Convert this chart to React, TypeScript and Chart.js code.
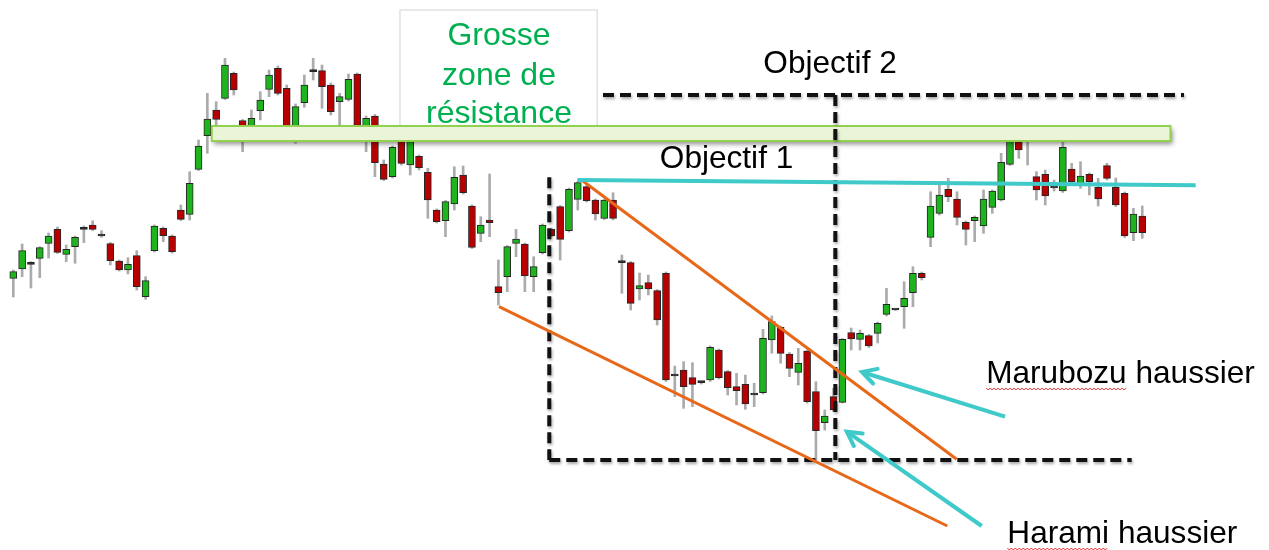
import React, { useEffect, useRef } from "react";
import { Chart, registerables } from "chart.js";

Chart.register(...registerables);

// ---- Candle data (price units; higher = up) ----
const OPEN = [271.7, 281, 285.7, 291.7, 306.7, 320.7, 295.7, 303.3, 320.7, 325, 314, 306.3, 289, 280, 294.3, 253.3, 299.3, 321.7, 314, 340, 335.7, 380.7, 414.3, 440, 451.7, 476.7, 429.3, 418, 439.3, 460.7, 481.7, 461.7, 414, 447.3, 478.3, 479.3, 465, 448.3, 450.7, 476, 414, 434, 386, 373.3, 409.5, 385, 393.7, 377.7, 340, 329.3, 346, 375, 344, 316.7, 330, 263.3, 273.3, 306.7, 306, 273.3, 297.3, 320.7, 343.3, 319.3, 350.7, 363.3, 350, 331.7, 350, 287.3, 287.3, 261, 267.3, 259.3, 276.7, 174, 180, 172.3, 167.3, 170, 200, 178.3, 163.3, 165.7, 155, 157.3, 210, 222.7, 196, 177.7, 199, 158.3, 127.3, 153.3, 147.7, 217.5, 210.7, 214.3, 216.7, 235.7, 240, 243.3, 257.3, 276.7, 312.7, 336.7, 360.7, 351, 327.7, 329.3, 324, 342.7, 350, 385.7, 408.3, 408.3, 373.3, 375.7, 362, 359, 381, 365, 375.7, 362.7, 384.3, 362.7, 356.7, 317.3, 334];
const HIGH = [280, 306, 288.3, 303.3, 317, 323, 305, 314, 324, 329.3, 319.3, 307.5, 290, 292.3, 299.3, 273.3, 325, 323, 315, 345, 378.3, 410, 456.7, 448.3, 491.7, 478, 430.5, 440, 458.3, 480, 484, 465, 446, 475, 491.7, 485, 467, 456.7, 476, 477, 434, 435.5, 390, 404, 411, 410, 395, 381.7, 341, 349.5, 383.3, 384, 345, 333.3, 376, 290, 304.5, 320.7, 307, 293.3, 326, 322, 344.5, 362, 368.5, 364.5, 351, 351, 357.3, 295, 288.5, 277, 275, 260.5, 278, 184, 188.3, 187.3, 168.5, 204, 201, 179.5, 176.7, 175, 166.7, 220.7, 234, 224, 197.5, 201.7, 200, 168.3, 140, 161.7, 211.5, 222, 220, 215.5, 228, 261.7, 240.5, 268.3, 283.3, 278, 358.3, 365, 371.7, 358.3, 329, 334, 360, 360, 396.7, 417, 412, 410, 378.3, 380, 370, 408.3, 386.7, 388.3, 377, 371.7, 386.7, 372, 358, 341.7, 344];
const LOW = [253, 273.3, 262, 272.3, 292, 296.5, 288.3, 286.7, 307.3, 319.5, 312.7, 285, 279, 276, 260, 250.7, 298, 308.3, 297, 329.5, 330, 379.5, 396.7, 423.3, 450.5, 455, 398.3, 416, 430, 453.3, 455, 415, 406.7, 442.7, 470, 441.7, 435, 425, 449, 417, 398.3, 373.3, 369.5, 372, 385, 375, 380, 331.7, 327, 313.3, 340, 356, 301.5, 308.3, 313.3, 245, 258.3, 293.3, 258.3, 258.3, 296, 313, 290, 318, 340, 348, 330, 330.5, 330, 256.7, 240, 250, 255, 225, 168.5, 153.3, 141.7, 143.3, 166, 168.5, 171, 155, 145, 140.7, 143.3, 156, 196.7, 186.7, 173.3, 165, 147, 90, 120, 138.5, 147, 200, 200, 202.5, 207, 234, 239.5, 221.7, 243.3, 270, 303.3, 335, 348.3, 325, 305, 308.3, 316.7, 336.7, 349, 384.5, 391.7, 385, 350, 345, 359, 357.5, 367, 361.7, 355, 344, 370, 343.5, 312.5, 309.3, 311.7];
const CLOSE = [278.3, 299.3, 285.7, 302.3, 314, 297.7, 300.7, 312.7, 320.7, 320.7, 314, 289.3, 280, 285.7, 263.3, 269.3, 324, 314.3, 298.3, 330.7, 366.7, 404, 431, 430.7, 485, 460, 415, 431.7, 450, 475, 456.7, 417, 443.3, 465, 478.3, 463.3, 438.3, 453.3, 470.7, 420, 431.7, 387.3, 370.7, 402.7, 386.7, 408.3, 382.3, 350, 328.3, 348.3, 372.7, 357.3, 302.7, 325, 327.3, 257.3, 303.3, 311, 274, 283.3, 325, 314, 310.7, 360.7, 367.3, 349.3, 336, 350, 331.7, 287.3, 246.7, 264.3, 261, 230, 170, 174, 163.3, 165.7, 167.3, 202.7, 172.3, 162.3, 159.3, 146, 155, 211.7, 228.3, 196.7, 181.7, 186.7, 148.3, 119.3, 134, 140, 210.7, 211, 216.7, 204, 226.7, 245.7, 240, 251.7, 276.7, 272.3, 344, 355, 353.3, 332.7, 320.7, 332.7, 351, 359, 387.7, 414, 400, 408.3, 360, 354, 362, 402.7, 368.3, 374, 368.3, 351, 371.7, 345, 314, 336, 317.3];

// ---- Annotation levels (x in candle index, y in price) ----
const RESIST_ZONE = { x0: 22.5, x1: 131.2, low: 409, high: 424 };
const OBJECTIF_1_LINE = [[63.95, 370], [134.06, 364.7]];
const OBJECTIF_2_LINE = [[66.86, 455], [132.73, 455]];
const BOX_LEFT = [[60.77, 372.7], [60.77, 90]];
const BOX_BOTTOM = [[60.77, 90], [126.8, 90]];
const BOX_MID = [[93.2, 455], [93.2, 90]];
const WEDGE_UPPER = [[64.5, 369.5], [106.96, 90.7]];
const WEDGE_LOWER = [[55.07, 243.3], [105.9, 24]];
const ARROW_MARUBOZU = [[112.44, 133.3], [96.22, 178]];
const ARROW_HARAMI = [[109.8, 24], [94.5, 118.3]];
const NOTE_PANEL = { x0: 43.84, x1: 66.2, top: 540, bottom: 424 };
const ZONE_TEXT = ["Grosse", "zone de", "résistance"];
const ZONE_TEXT_POS = { x: 55.07, y: [505, 465, 427] };
const LABELS = [
  { text: "Objectif 2", x: 92.6, y: 477, align: "center", wavy: 0 },
  { text: "Objectif 1", x: 73.3, y: 382, align: "left", wavy: 0 },
  { text: "Marubozu haussier", x: 110.3, y: 167, align: "left", wavy: "Marubozu" },
  { text: "Harami haussier", x: 112.7, y: 7, align: "left", wavy: "Harami" },
];

// ---- Layout ----
const W = 1269;
const H = 550;
const FIRST_PX = 13.3;
const STEP_PX = 8.82;
const X_MIN = -FIRST_PX / STEP_PX;
const X_MAX = X_MIN + W / STEP_PX;

const GREEN = "#1db41d";
const RED = "#b80000";

const annotationPlugin = {
  id: "annotations",
  afterDatasetsDraw(chart: any) {
    const ctx = chart.ctx as CanvasRenderingContext2D;
    const xs = chart.scales.x;
    const ys = chart.scales.y;
    const px = (v: number) => xs.getPixelForValue(v);
    const py = (v: number) => ys.getPixelForValue(v);

    const line = (pts: number[][], color: string, width: number, dash: number[] = [], shadow = false) => {
      ctx.save();
      ctx.strokeStyle = color;
      ctx.lineWidth = width;
      ctx.setLineDash(dash);
      if (shadow) {
        ctx.shadowColor = "rgba(0,0,0,0.35)";
        ctx.shadowBlur = 3;
        ctx.shadowOffsetX = 1;
        ctx.shadowOffsetY = 2;
      }
      ctx.beginPath();
      ctx.moveTo(px(pts[0][0]), py(pts[0][1]));
      ctx.lineTo(px(pts[1][0]), py(pts[1][1]));
      ctx.stroke();
      ctx.restore();
    };

    // note panel
    ctx.save();
    ctx.fillStyle = "#ffffff";
    ctx.strokeStyle = "#e2e2e2";
    ctx.lineWidth = 1.5;
    const pX0 = px(NOTE_PANEL.x0), pX1 = px(NOTE_PANEL.x1);
    const pY0 = py(NOTE_PANEL.top), pY1 = py(NOTE_PANEL.bottom);
    ctx.fillRect(pX0, pY0, pX1 - pX0, pY1 - pY0);
    ctx.beginPath();
    ctx.moveTo(pX0, pY1);
    ctx.lineTo(pX0, pY0);
    ctx.lineTo(pX1, pY0);
    ctx.lineTo(pX1, pY1);
    ctx.stroke();
    ctx.restore();

    // zone text
    ctx.save();
    ctx.fillStyle = "#00b050";
    ctx.font = '32px "Liberation Sans", Arial, sans-serif';
    ctx.textAlign = "center";
    ctx.textBaseline = "alphabetic";
    ZONE_TEXT.forEach((t, i) => ctx.fillText(t, px(ZONE_TEXT_POS.x), py(ZONE_TEXT_POS.y[i])));
    ctx.restore();

    // resistance zone rectangle
    ctx.save();
    const rx0 = px(RESIST_ZONE.x0), rx1 = px(RESIST_ZONE.x1);
    const ry0 = py(RESIST_ZONE.high), ry1 = py(RESIST_ZONE.low);
    ctx.shadowColor = "rgba(0,0,0,0.45)";
    ctx.shadowBlur = 5;
    ctx.shadowOffsetX = 2;
    ctx.shadowOffsetY = 3;
    ctx.fillStyle = "#eaf5d8";
    ctx.fillRect(rx0, ry0, rx1 - rx0, ry1 - ry0);
    ctx.shadowColor = "transparent";
    ctx.strokeStyle = "#92d050";
    ctx.lineWidth = 2;
    ctx.strokeRect(rx0, ry0, rx1 - rx0, ry1 - ry0);
    ctx.restore();

    // dashed target box
    const dash = [11, 6];
    line(OBJECTIF_2_LINE, "#111111", 4, dash, true);
    line(BOX_LEFT, "#111111", 4, dash, true);
    line(BOX_MID, "#111111", 4, dash, true);
    line(BOX_BOTTOM, "#111111", 4, dash, true);

    // wedge
    line(WEDGE_UPPER, "#e8681a", 3);
    line(WEDGE_LOWER, "#e8681a", 3);

    // objectif 1 line
    line(OBJECTIF_1_LINE, "#40c9c9", 4);

    // arrows
    const arrow = (pts: number[][]) => {
      line(pts, "#40c9c9", 4);
      const x0 = px(pts[0][0]), y0 = py(pts[0][1]);
      const x1 = px(pts[1][0]), y1 = py(pts[1][1]);
      const ang = Math.atan2(y1 - y0, x1 - x0);
      const len = 16;
      ctx.save();
      ctx.strokeStyle = "#40c9c9";
      ctx.lineWidth = 4;
      ctx.lineCap = "round";
      ctx.beginPath();
      ctx.moveTo(x1 - len * Math.cos(ang - 0.5), y1 - len * Math.sin(ang - 0.5));
      ctx.lineTo(x1, y1);
      ctx.lineTo(x1 - len * Math.cos(ang + 0.5), y1 - len * Math.sin(ang + 0.5));
      ctx.stroke();
      ctx.restore();
    };
    arrow(ARROW_MARUBOZU);
    arrow(ARROW_HARAMI);

    // labels
    ctx.save();
    ctx.font = '31.6px "Liberation Sans", Arial, sans-serif';
    ctx.fillStyle = "#000000";
    ctx.textBaseline = "alphabetic";
    LABELS.forEach((l) => {
      ctx.textAlign = l.align as CanvasTextAlign;
      const x = px(l.x), y = py(l.y);
      ctx.fillText(l.text, x, y);
      if (l.wavy) {
        const w = ctx.measureText(l.wavy as string).width;
        const sx = l.align === "left" ? x : x - ctx.measureText(l.text).width / 2;
        ctx.save();
        ctx.strokeStyle = "#e53030";
        ctx.lineWidth = 1;
        ctx.beginPath();
        for (let k = 0; k <= w; k += 2) {
          const yy = y + 5 + (Math.floor(k / 2) % 2 === 0 ? 0 : 2);
          if (k === 0) ctx.moveTo(sx + k, yy);
          else ctx.lineTo(sx + k, yy);
        }
        ctx.stroke();
        ctx.restore();
      }
    });
    ctx.restore();
  },
};

export default function App() {
  const ref = useRef<HTMLCanvasElement | null>(null);

  useEffect(() => {
    if (!ref.current) return;
    const colors = OPEN.map((o, i) => (o === CLOSE[i] ? "#111111" : CLOSE[i] > o ? GREEN : RED));
    const chart = new Chart(ref.current, {
      type: "bar",
      data: {
        datasets: [
          {
            label: "body",
            data: OPEN.map((o, i) => ({ x: i, y: [o, CLOSE[i]] })) as any,
            backgroundColor: colors,
            borderColor: "#262626",
            borderWidth: 1,
            borderSkipped: false,
            barThickness: 7,
            minBarLength: 2,
            grouped: false,
            order: 0,
          } as any,
          {
            label: "wick",
            data: LOW.map((l, i) => ({ x: i, y: [l, HIGH[i]] })) as any,
            backgroundColor: "#ababab",
            borderWidth: 0,
            barThickness: 2,
            grouped: false,
            order: 1,
          } as any,
        ],
      },
      options: {
        responsive: false,
        maintainAspectRatio: false,
        animation: false,
        layout: { padding: 0 },
        scales: {
          x: { type: "linear", min: X_MIN, max: X_MAX, offset: false, bounds: "ticks", grace: 0, display: false } as any,
          y: { min: 0, max: H, display: false },
        },
        plugins: { legend: { display: false }, tooltip: { enabled: false } },
      },
      plugins: [annotationPlugin],
    });
    return () => chart.destroy();
  }, []);

  return (
    <div style={{ position: "fixed", left: 0, top: 0, width: W, height: H, background: "#fff" }}>
      <canvas ref={ref} width={W} height={H} />
    </div>
  );
}
